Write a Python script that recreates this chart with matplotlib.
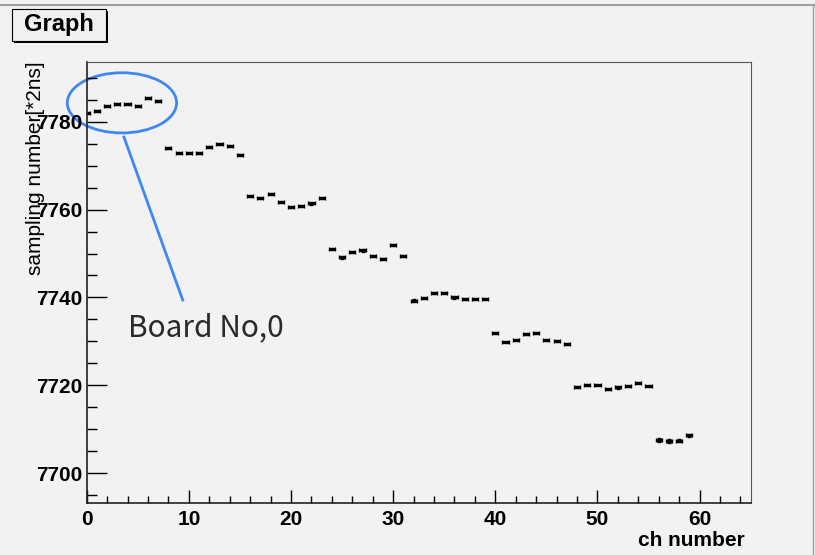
import matplotlib
matplotlib.use('Agg')
import matplotlib.pyplot as plt
from matplotlib.patches import Ellipse, Rectangle
from matplotlib.ticker import MultipleLocator
import numpy as np

# channel numbers, 8 per board
ch = list(range(60))

# sampling number per channel
sampling = [
    7781.9, 7782.5, 7783.6, 7784.1, 7784.0, 7783.6, 7785.4, 7784.8,  # board 0
    7774.1, 7772.9, 7772.8, 7772.9, 7774.2, 7774.9, 7774.5, 7772.4,  # board 1
    7763.1, 7762.6, 7763.5, 7761.8, 7760.5, 7760.8, 7761.4, 7762.6,  # board 2
    7751.0, 7749.1, 7750.4, 7750.7, 7749.4, 7748.8, 7751.9, 7749.4,  # board 3
    7739.3, 7739.8, 7741.0, 7741.1, 7740.0, 7739.7, 7739.6, 7739.7,  # board 4
    7731.9, 7729.8, 7730.4, 7731.6, 7731.9, 7730.4, 7730.1, 7729.4,  # board 5
    7719.6, 7720.0, 7720.0, 7719.2, 7719.5, 7719.9, 7720.5, 7719.9,  # board 6
    7707.6, 7707.3, 7707.4, 7708.6,                                  # board 7
]
x_err = 0.3
y_err = [0.25] * 56 + [0.4, 0.4, 0.4, 0.35]

bg = '#f2f2f2'
W, H = 815, 555

fig = plt.figure(figsize=(W / 100, H / 100), dpi=100, facecolor=bg)
ax = fig.add_axes([86.7 / W, 1 - 503 / H, (750.7 - 86.7) / W, (503 - 62) / H])
ax.set_facecolor(bg)

ax.errorbar(ch, sampling, xerr=x_err, yerr=y_err, fmt='none',
            ecolor='black', elinewidth=2.2, capsize=1.5, capthick=1)

ax.set_xlim(0, 65)
ax.set_ylim(7693.2, 7793.6)

ax.xaxis.set_major_locator(MultipleLocator(10))
ax.xaxis.set_minor_locator(MultipleLocator(2))
ax.yaxis.set_major_locator(MultipleLocator(20))
ax.yaxis.set_minor_locator(MultipleLocator(5))

ax.tick_params(axis='both', which='both', direction='in', top=False, right=False,
               colors='black', width=1)
ax.tick_params(axis='y', which='major', length=14.4, pad=3)
ax.tick_params(axis='y', which='minor', length=7.2)
ax.tick_params(axis='x', which='major', length=9.4, pad=5)
ax.tick_params(axis='x', which='minor', length=4.7)

for lab in ax.get_xticklabels() + ax.get_yticklabels():
    lab.set_fontfamily('Liberation Sans')
    lab.set_fontweight('bold')
    lab.set_fontsize(15)

for s in ['left', 'bottom']:
    ax.spines[s].set_color('#222222')
    ax.spines[s].set_linewidth(1.2)
for s in ['top', 'right']:
    ax.spines[s].set_color('#555555')
    ax.spines[s].set_linewidth(0.8)

fig.text(745 / W, 1 - 541 / H, 'ch number', ha='right', va='center',
         fontfamily='Liberation Sans', fontweight='bold', fontsize=15)
fig.text(36 / W, 1 - 61 / H, 'sampling number[*2ns]', rotation=90,
         ha='center', va='top', fontfamily='Liberation Sans', fontsize=15)

# title box "Graph"
fig.patches.append(Rectangle((14 / W, 1 - 43 / H), 94 / W, 32 / H,
                             transform=fig.transFigure, facecolor='black',
                             edgecolor='none'))
fig.patches.append(Rectangle((12 / W, 1 - 41 / H), 94 / W, 32 / H,
                             transform=fig.transFigure, facecolor='#f0f0f0',
                             edgecolor='black', linewidth=0.8))
fig.text(59 / W, 1 - 25 / H, 'Graph', ha='center', va='center',
         fontfamily='Liberation Sans', fontweight='bold', fontsize=17)

# window frame lines
fig.add_artist(plt.Line2D([0, 1], [1 - 5 / H, 1 - 5 / H], transform=fig.transFigure,
                          color='#a0a0a0', linewidth=1.5))
fig.add_artist(plt.Line2D([1 - 2 / W, 1 - 2 / W], [0, 1 - 5 / H], transform=fig.transFigure,
                          color='#a0a0a0', linewidth=1.0))

# board 0 annotation
blue = '#3f87f5'
ax.add_patch(Ellipse((3.45, 7784.3), 10.7, 13.7, fill=False, edgecolor=blue,
                     linewidth=2, clip_on=False))
ax.plot([3.65, 9.4], [7776.5, 7739.4], color=blue, linewidth=2, clip_on=False)
ax.text(4.0, 7731.2, 'Board No,0', ha='left', va='baseline', color='#2a2a2a',
        fontfamily=['Noto Sans CJK JP', 'DejaVu Sans'], fontsize=21.5)

fig.savefig('out.png', dpi=100, facecolor=bg)
